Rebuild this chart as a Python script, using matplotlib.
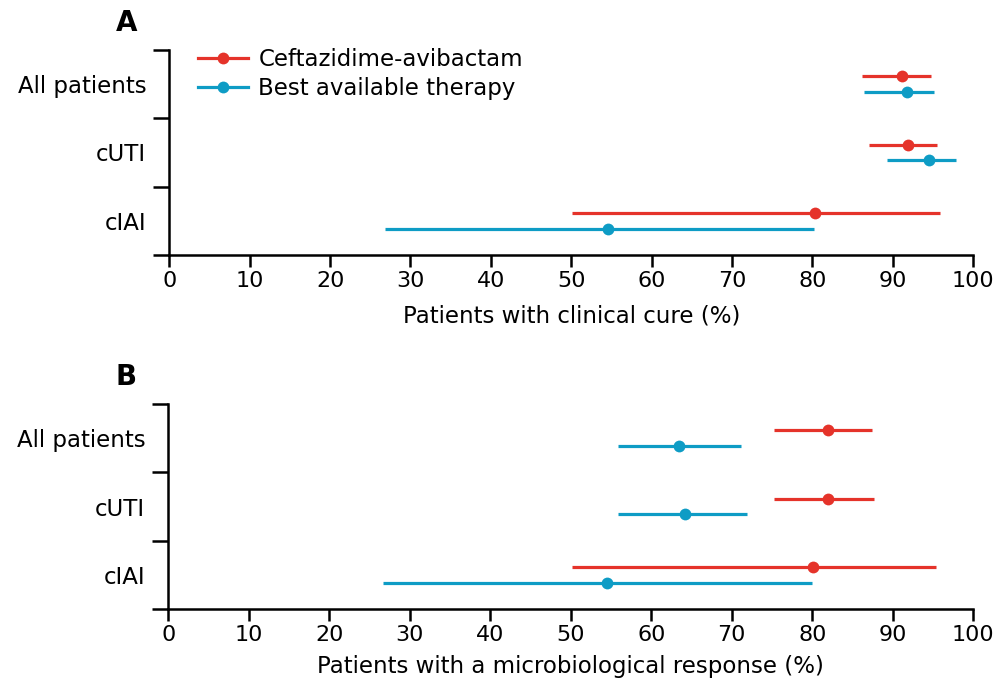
import matplotlib
matplotlib.use("Agg")
import matplotlib.pyplot as plt
from matplotlib.lines import Line2D
import numpy as np

plt.rcParams['font.family'] = ['DejaVu Sans']

categories = ["All patients", "cUTI", "cIAI"]
series_names = ["Ceftazidime-avibactam", "Best available therapy"]
colors = ["#e5332a", "#0e9cc5"]

# Panel A: clinical cure (%)
a_caz_est = [91.1, 91.9, 80.3]
a_caz_lo = [86.1, 87.0, 50.1]
a_caz_hi = [94.8, 95.5, 95.8]
a_bat_est = [91.7, 94.5, 54.6]
a_bat_lo = [86.4, 89.3, 26.8]
a_bat_hi = [95.1, 97.9, 80.2]

# Panel B: microbiological response (%)
b_caz_est = [81.9, 82.0, 80.1]
b_caz_lo = [75.2, 75.2, 50.1]
b_caz_hi = [87.4, 87.7, 95.4]
b_bat_est = [63.4, 64.2, 54.5]
b_bat_lo = [55.9, 55.9, 26.7]
b_bat_hi = [71.2, 71.9, 80.0]

xticks = [0, 10, 20, 30, 40, 50, 60, 70, 80, 90, 100]

fig = plt.figure(figsize=(10.01, 6.86), dpi=100)
axA = fig.add_axes([0.1691, 0.6283, 0.8032, 0.2988])
axB = fig.add_axes([0.1681, 0.1122, 0.8042, 0.2988])

offset = 0.115

def draw(ax, series, xlabel, panel, labelpad):
    pos = np.arange(len(categories)) + 0.5
    for k, (est, lo, hi) in enumerate(series):
        est = np.array(est); lo = np.array(lo); hi = np.array(hi)
        y = pos + (-offset if k == 0 else offset)
        ax.errorbar(est, y, xerr=[est - lo, hi - est], fmt='o', color=colors[k],
                    ecolor=colors[k], elinewidth=2.3, markersize=8.5, capsize=0,
                    markeredgewidth=0, zorder=3)
    ax.set_xlim(0, 100)
    ax.set_ylim(3, 0)
    ax.spines['top'].set_visible(False)
    ax.spines['right'].set_visible(False)
    ax.spines['left'].set_linewidth(1.8)
    ax.spines['bottom'].set_linewidth(1.8)
    ax.set_xticks(xticks)
    ax.set_xticklabels([str(t) for t in xticks])
    ax.tick_params(axis='x', direction='out', length=8.5, width=1.8, pad=3,
                   labelsize=16)
    ax.set_yticks(pos)
    ax.set_yticklabels(categories)
    ax.tick_params(axis='y', which='major', length=0, pad=16.5, labelsize=16.5)
    ax.set_yticks([0, 1, 2, 3], minor=True)
    ax.tick_params(axis='y', which='minor', direction='out', length=11.5, width=1.8)
    ax.set_xlabel(xlabel, fontsize=16.5, labelpad=labelpad)
    ax.set_facecolor('none')
    ax.text(-0.053, 1.13, panel, transform=ax.transAxes, fontsize=20,
            fontweight='bold', ha='center', va='center')

draw(axA, [(a_caz_est, a_caz_lo, a_caz_hi), (a_bat_est, a_bat_lo, a_bat_hi)],
     "Patients with clinical cure (%)", "A", 9.5)
draw(axB, [(b_caz_est, b_caz_lo, b_caz_hi), (b_bat_est, b_bat_lo, b_bat_hi)],
     "Patients with a microbiological response (%)", "B", 7)

handles = [Line2D([], [], color=colors[k], lw=2.3, marker='o', markersize=8.5,
                  markeredgewidth=0) for k in range(2)]
axA.legend(handles, series_names, loc='upper left', bbox_to_anchor=(0.024, 1.055),
           frameon=False, fontsize=16.5, handlelength=2.2, handletextpad=0.45,
           labelspacing=0.25, borderaxespad=0)

fig.savefig("out.png", dpi=100)
